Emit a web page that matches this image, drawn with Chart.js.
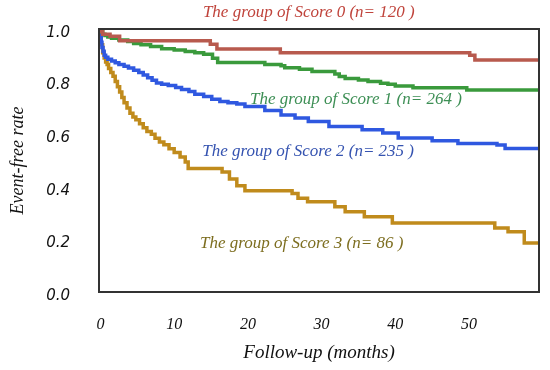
<!DOCTYPE html>
<html>
<head>
<meta charset="utf-8">
<script src="https://cdn.jsdelivr.net/npm/chart.js@4/dist/chart.umd.min.js"></script>
<style>
    body {
        margin: 0;
        background: #ffffff;
    }
</style>
</head>
<body>
<canvas id="km_chart" width="550" height="370"></canvas>
<script>
    // follow-up time (months) and event-free rate for each score group
    const score0Months = [0, 0.3, 1.3, 2.6, 14.9, 15.8, 24.4, 50.1, 50.8, 51.9, 59.5]
    const score0Rates = [1.0, 0.99, 0.98, 0.972, 0.955, 0.942, 0.924, 0.91, 0.90, 0.882, 0.882]

    const score1Months = [0, 0.3, 0.6, 1.0, 1.5, 2.5, 3.7, 4.5, 5.5, 6.8, 8.3, 10, 11.5, 12.8, 14, 15.2, 15.9, 22.3, 24.5, 25.0, 27, 28.7, 31.8, 32.4, 33.2, 35, 36.3, 38, 39, 40, 42.4, 49.7, 58.3, 59.5]
    const score1Rates = [1.0, 0.99, 0.98, 0.975, 0.97, 0.965, 0.958, 0.952, 0.945, 0.94, 0.933, 0.925, 0.92, 0.914, 0.91, 0.904, 0.889, 0.873, 0.865, 0.860, 0.853, 0.847, 0.838, 0.829, 0.819, 0.812, 0.806, 0.800, 0.794, 0.790, 0.783, 0.777, 0.768, 0.768]

    const score2Months = [0, 0.1, 0.2, 0.35, 0.5, 0.7, 1.0, 1.5, 2.0, 2.5, 3.2, 3.8, 4.5, 5.2, 5.8, 6.4, 7.0, 7.6, 8.3, 9.2, 10.2, 11, 12, 12.8, 14, 15.1, 16.2, 17.3, 18.5, 19.6, 22.3, 24.5, 26.4, 28.2, 31, 35.5, 38.3, 40.4, 45, 48.5, 53.8, 54.9, 58.5, 59.5]
    const score2Rates = [1.0, 0.97, 0.95, 0.93, 0.915, 0.90, 0.893, 0.885, 0.878, 0.872, 0.865, 0.858, 0.852, 0.843, 0.835, 0.825, 0.815, 0.805, 0.795, 0.79, 0.785, 0.778, 0.77, 0.762, 0.752, 0.743, 0.733, 0.724, 0.72, 0.715, 0.705, 0.69, 0.673, 0.662, 0.648, 0.629, 0.617, 0.605, 0.586, 0.575, 0.565, 0.559, 0.546, 0.546]

    const score3Months = [0, 0.1, 0.3, 0.5, 0.7, 0.9, 1.1, 1.4, 1.7, 2.0, 2.3, 2.6, 2.9, 3.2, 3.6, 4.0, 4.4, 4.8, 5.3, 5.8, 6.3, 6.9, 7.4, 8.0, 8.6, 9.3, 10.0, 10.8, 11.5, 11.9, 16.5, 17.5, 18.5, 19.6, 26.0, 26.8, 28.1, 31.8, 33.2, 35.8, 39.6, 53.5, 55.3, 57.5, 57.7, 59.5]
    const score3Rates = [1.0, 0.97, 0.94, 0.91, 0.89, 0.875, 0.865, 0.85, 0.835, 0.82, 0.80, 0.78, 0.76, 0.74, 0.72, 0.70, 0.68, 0.665, 0.655, 0.64, 0.625, 0.61, 0.60, 0.585, 0.57, 0.56, 0.545, 0.53, 0.513, 0.494, 0.47, 0.456, 0.43, 0.404, 0.385, 0.375, 0.356, 0.343, 0.324, 0.305, 0.286, 0.262, 0.243, 0.229, 0.186, 0.186]

    const groupNames = ["The group of Score 0 (n= 120 )", "The group of Score 1 (n= 264 )", "The group of Score 2 (n= 235 )", "The group of Score 3 (n= 86 )"]
    const xTickValues = [0, 10, 20, 30, 40, 50]
    const yTickValues = [0, 0.2, 0.4, 0.6, 0.8, 1.0]

    const lineColors = ["#b85a4e", "#3a9a3c", "#2f58e0", "#c08b1c"]
    const textColors = ["#c0443c", "#3d8f55", "#3553b0", "#7d6e20"]
    // where each group label sits, in months / rate
    const labelAnchors = [[13.9, 1.061], [20.3, 0.730], [13.8, 0.536], [13.5, 0.186]]

    const toPoints = (months, rates) => months.map((m, i) => ({x: m, y: rates[i]}))

    const series = [
        toPoints(score0Months, score0Rates),
        toPoints(score1Months, score1Rates),
        toPoints(score2Months, score2Rates),
        toPoints(score3Months, score3Rates)
    ]

    const frameBox = {
        id: "frameBox",
        afterDatasetsDraw: (chart) => {
            const {ctx, chartArea} = chart
            ctx.save()
            ctx.strokeStyle = "#333333"
            ctx.lineWidth = 2
            ctx.strokeRect(chartArea.left, chartArea.top, chartArea.right - chartArea.left, chartArea.bottom - chartArea.top)
            ctx.restore()
        }
    }

    const groupLabels = {
        id: "groupLabels",
        afterDraw: (chart) => {
            const {ctx, scales} = chart
            ctx.save()
            ctx.font = "italic 17px 'Liberation Serif'"
            ctx.textBaseline = "middle"
            ctx.textAlign = "left"
            groupNames.forEach((name, i) => {
                ctx.fillStyle = textColors[i]
                ctx.fillText(name, scales.x.getPixelForValue(labelAnchors[i][0]), scales.y.getPixelForValue(labelAnchors[i][1]))
            })
            ctx.restore()
        }
    }

    const ctx = document.getElementById("km_chart").getContext("2d")
    new Chart(ctx, {
        type: "line",
        data: {
            datasets: series.map((points, i) => ({
                label: groupNames[i],
                data: points,
                borderColor: lineColors[i],
                borderWidth: 3.5,
                pointRadius: 0,
                stepped: "after",
                fill: false
            }))
        },
        options: {
            responsive: false,
            animation: false,
            layout: {
                padding: {left: 0, right: 11, top: 29, bottom: 0}
            },
            plugins: {
                legend: {display: false},
                tooltip: {enabled: false}
            },
            scales: {
                x: {
                    type: "linear",
                    min: -0.2,
                    max: 59.5,
                    afterFit: (scale) => {
                        scale.height = 78
                        scale.paddingLeft = 0
                        scale.paddingRight = 0
                    },
                    afterBuildTicks: (scale) => { scale.ticks = xTickValues.map(v => ({value: v})) },
                    grid: {display: false, drawTicks: false},
                    border: {display: false},
                    ticks: {
                        padding: 23,
                        color: "#111111",
                        font: {family: "'Liberation Serif'", style: "italic", size: 16}
                    },
                    title: {
                        display: true,
                        text: "Follow-up (months)",
                        color: "#111111",
                        padding: {top: 0, bottom: 6},
                        font: {family: "'Liberation Serif'", style: "italic", size: 19}
                    }
                },
                y: {
                    min: 0,
                    max: 1.0,
                    // the big label gap would otherwise push the plot down
                    afterFit: (scale) => {
                        scale.width = 99
                        scale.paddingTop = 0
                        scale.paddingBottom = 0
                    },
                    afterBuildTicks: (scale) => { scale.ticks = yTickValues.map(v => ({value: v})) },
                    grid: {display: false, drawTicks: false},
                    border: {display: false},
                    ticks: {
                        padding: 29,
                        labelOffset: 4,
                        color: "#111111",
                        font: {family: "'DejaVu Sans'", style: "italic", size: 15},
                        callback: (v) => Number(v).toFixed(1)
                    },
                    title: {
                        display: true,
                        text: "Event-free rate",
                        color: "#111111",
                        padding: {top: 7, bottom: 0},
                        font: {family: "'Liberation Serif'", style: "italic", size: 18}
                    }
                }
            }
        },
        plugins: [frameBox, groupLabels]
    })
</script>
</body>
</html>
